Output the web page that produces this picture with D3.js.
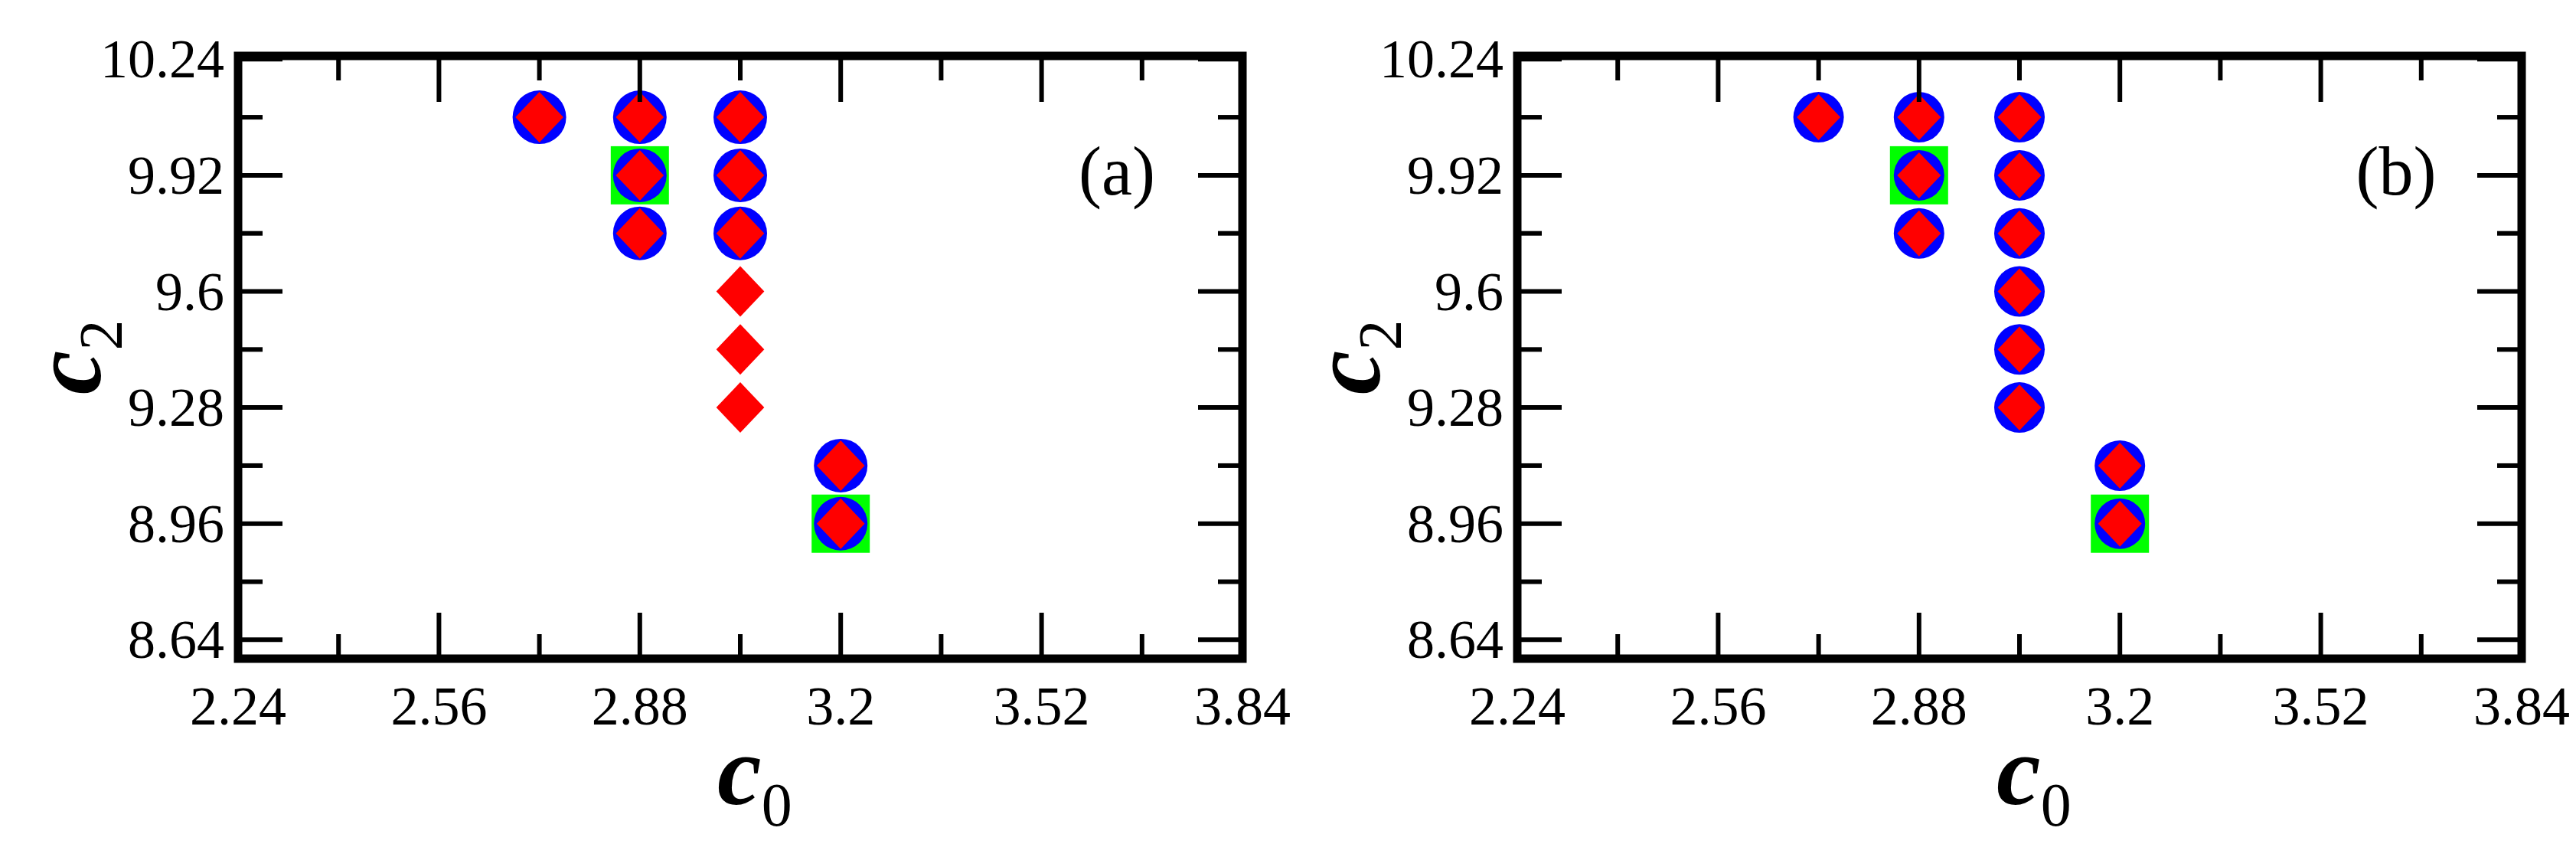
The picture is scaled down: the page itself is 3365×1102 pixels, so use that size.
<!DOCTYPE html>
<html><head><meta charset="utf-8">
<script src="https://cdn.jsdelivr.net/npm/d3@7"></script>
<style>body{margin:0;background:#fff}</style></head>
<body><svg id="c" width="3365" height="1102"></svg>
<script>
const xTicks = [2.24, 2.56, 2.88, 3.2, 3.52, 3.84];
const yTicks = [8.64, 8.96, 9.28, 9.6, 9.92, 10.24];
const xMinor = [2.40, 2.72, 3.04, 3.36, 3.68];
const yMinor = [8.80, 9.12, 9.44, 9.76, 10.08];
// panel (a)
const aCircles = [[2.72,10.08],[2.88,10.08],[2.88,9.92],[2.88,9.76],[3.04,10.08],[3.04,9.92],[3.04,9.76],[3.2,9.12],[3.2,8.96]];
const aDiamonds = [[2.72,10.08],[2.88,10.08],[2.88,9.92],[2.88,9.76],[3.04,10.08],[3.04,9.92],[3.04,9.76],[3.04,9.60],[3.04,9.44],[3.04,9.28],[3.2,9.12],[3.2,8.96]];
const aSquares = [[2.88,9.92],[3.2,8.96]];
// panel (b)
const bCircles = [[2.72,10.08],[2.88,10.08],[2.88,9.92],[2.88,9.76],[3.04,10.08],[3.04,9.92],[3.04,9.76],[3.04,9.60],[3.04,9.44],[3.04,9.28],[3.2,9.12],[3.2,8.96]];
const bDiamonds = bCircles.slice();
const bSquares = [[2.88,9.92],[3.2,8.96]];

const svg = d3.select("#c");
const F = "'Liberation Serif', 'Times New Roman', serif";

function panel(x0, label, circles, diamonds, squares, cr, dh) {
  const W = 1312, top = 73, bottom = 860;
  const x = d3.scaleLinear().domain([2.24, 3.84]).range([x0, x0 + W]);
  const y = d3.scaleLinear().domain([8.588, 10.249]).range([bottom, top]);
  const g = svg.append("g");
  // squares
  g.selectAll(".sq").data(squares).join("rect")
    .attr("x", d => x(d[0]) - 38).attr("y", d => y(d[1]) - 38)
    .attr("width", 76).attr("height", 76).attr("fill", "#00ff00");
  g.selectAll(".ci").data(circles).join("circle")
    .attr("cx", d => x(d[0])).attr("cy", d => y(d[1])).attr("r", cr).attr("fill", "#0000ff");
  g.selectAll(".di").data(diamonds).join("path")
    .attr("transform", d => `translate(${x(d[0])},${y(d[1])})`)
    .attr("d", `M0,${-dh}L${dh*0.95},0L0,${dh}L${-dh*0.95},0Z`).attr("fill", "#ff0000");
  // ticks
  const sw = 6;
  const xt = g.append("g");
  xTicks.concat(xMinor).forEach(v => {
    const L = xTicks.includes(v) ? 60 : 32;
    xt.append("line").attr("x1", x(v)).attr("x2", x(v)).attr("y1", bottom).attr("y2", bottom - L).attr("stroke", "#000").attr("stroke-width", sw);
    xt.append("line").attr("x1", x(v)).attr("x2", x(v)).attr("y1", top).attr("y2", top + L).attr("stroke", "#000").attr("stroke-width", sw);
  });
  yTicks.concat(yMinor).forEach(v => {
    const L = yTicks.includes(v) ? 58 : 32;
    xt.append("line").attr("y1", y(v)).attr("y2", y(v)).attr("x1", x0).attr("x2", x0 + L).attr("stroke", "#000").attr("stroke-width", sw);
    xt.append("line").attr("y1", y(v)).attr("y2", y(v)).attr("x1", x0 + W).attr("x2", x0 + W - L).attr("stroke", "#000").attr("stroke-width", sw);
  });
  g.append("rect").attr("x", x0).attr("y", top).attr("width", W).attr("height", bottom - top)
    .attr("fill", "none").attr("stroke", "#000").attr("stroke-width", 11);
  // labels
  g.selectAll(".xl").data(xTicks).join("text")
    .attr("x", d => x(d)).attr("y", 946).attr("text-anchor", "middle")
    .attr("font-family", F).attr("font-size", 72).text(d => d3.format("")(d));
  g.selectAll(".yl").data(yTicks).join("text")
    .attr("x", x0 - 18).attr("y", d => y(d) + 24).attr("text-anchor", "end")
    .attr("font-family", F).attr("font-size", 72).text(d => d3.format("")(d));
  g.append("text").attr("x", x0 + W * 0.875).attr("y", 254).attr("text-anchor", "middle")
    .attr("font-family", F).attr("font-size", 90).text(label);
  // axis titles
  const xtl = g.append("text").attr("x", x(3.04) - 30).attr("y", 1050).attr("font-family", F);
  xtl.append("tspan").attr("font-size", 130).attr("font-style", "italic").attr("font-weight", "bold").text("c");
  xtl.append("tspan").attr("font-size", 80).attr("dy", 28).text("0");
  const ytl = g.append("text").attr("transform", `translate(${x0 - 180},${y(9.44) + 10}) rotate(-90)`)
    .attr("text-anchor", "middle").attr("font-family", F);
  ytl.append("tspan").attr("font-size", 130).attr("font-style", "italic").attr("font-weight", "bold").text("c");
  ytl.append("tspan").attr("font-size", 80).attr("dy", 28).text("2");
}
panel(311, "(a)", aCircles, aDiamonds, aSquares, 35, 33);
panel(1982, "(b)", bCircles, bDiamonds, bSquares, 33, 30);
</script></body></html>
